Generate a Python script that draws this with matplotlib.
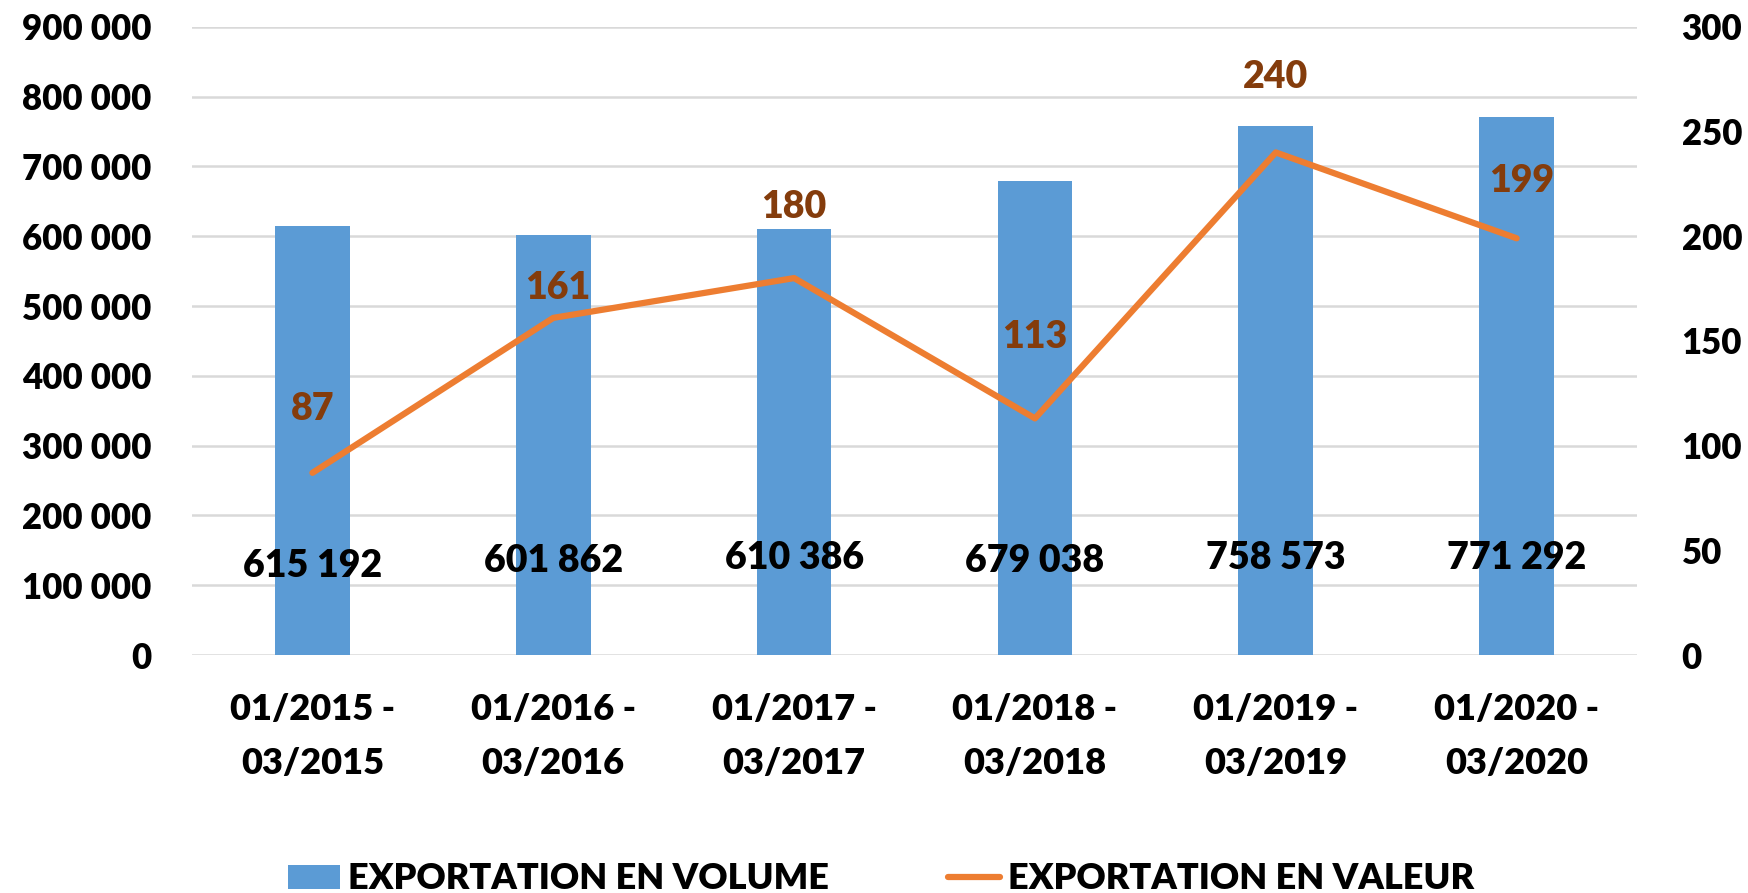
import matplotlib
matplotlib.use("Agg")
import matplotlib.pyplot as plt
from matplotlib.patches import Patch
from matplotlib.lines import Line2D
from matplotlib.ticker import FuncFormatter
import numpy as np

plt.rcParams['font.family'] = ['Lato', 'DejaVu Sans']
W = 'heavy'
plt.rcParams['font.weight'] = W

categories = ["01/2015 -\n03/2015", "01/2016 -\n03/2016", "01/2017 -\n03/2017",
              "01/2018 -\n03/2018", "01/2019 -\n03/2019", "01/2020 -\n03/2020"]
volume = [615192, 601862, 610386, 679038, 758573, 771292]
valeur = [87, 161, 180, 113, 240, 199]
series_names = ["EXPORTATION EN VOLUME", "EXPORTATION EN VALEUR"]

# label placement (styles, not data)
vol_label_y = [127000, 135000, 139000, 135000, 139000, 139000]
val_label_off = [(0, 64), (4, 30), (0, 71), (0, 81), (0, 75), (5, 57)]

BLUE = "#5B9BD5"
ORANGE = "#ED7D31"
BROWN = "#843C0C"
GRID = "#D9D9D9"

fig = plt.figure(figsize=(17.49, 8.93), dpi=100)
ax = fig.add_axes([0.1098, 0.2665, 0.936 - 0.1098, 0.970 - 0.2665])
x = np.arange(len(categories))
ax.bar(x, volume, width=0.31, color=BLUE, zorder=2)
ax.set_ylim(0, 900000)
ax.set_xlim(-0.5, len(categories) - 0.5)
ax.set_yticks(np.arange(0, 900001, 100000))
ax.yaxis.set_major_formatter(FuncFormatter(lambda v, p: f"{int(v):,}".replace(",", " ")))
ax.grid(axis='y', color=GRID, linewidth=1.8, zorder=0)
ax.set_axisbelow(True)
for s in ax.spines.values():
    s.set_visible(False)
ax.tick_params(axis='y', length=0, pad=29, labelsize=25)
ax.set_xticks(x)
ax.set_xticklabels(categories, fontsize=26, linespacing=1.8)
ax.tick_params(axis='x', length=0, pad=27)

for xi, v, ly in zip(x, volume, vol_label_y):
    ax.text(xi, ly, f"{v:,}".replace(",", " "), ha='center', va='center',
            fontsize=27, fontweight=W, color='black', zorder=4)

ax2 = ax.twinx()
ax2.plot(x, valeur, color=ORANGE, linewidth=4.5, zorder=3, solid_capstyle='round')
ax2.set_ylim(0, 300)
ax2.set_yticks(np.arange(0, 301, 50))
for s in ax2.spines.values():
    s.set_visible(False)
ax2.tick_params(axis='y', length=0, pad=32, labelsize=25)
for xi, v, off in zip(x, valeur, val_label_off):
    ax2.annotate(str(v), (xi, v), xytext=off, textcoords='offset pixels',
                 ha='center', va='center', fontsize=27, fontweight=W, color=BROWN)

for lab in ax.get_yticklabels() + ax2.get_yticklabels() + ax.get_xticklabels():
    lab.set_fontweight(W)

handles = [Patch(facecolor=BLUE, edgecolor='none'),
           Line2D([0], [0], color=ORANGE, linewidth=4.5, solid_capstyle='round')]
fig.legend(handles, series_names, loc='center', bbox_to_anchor=(0.504, 0.0157),
           ncol=2, frameon=False, prop={'weight': W, 'size': 26},
           handlelength=1.44, handleheight=0.67, handletextpad=0.22,
           columnspacing=3.3, borderpad=0, borderaxespad=0)

fig.savefig("out.png", dpi=100)
